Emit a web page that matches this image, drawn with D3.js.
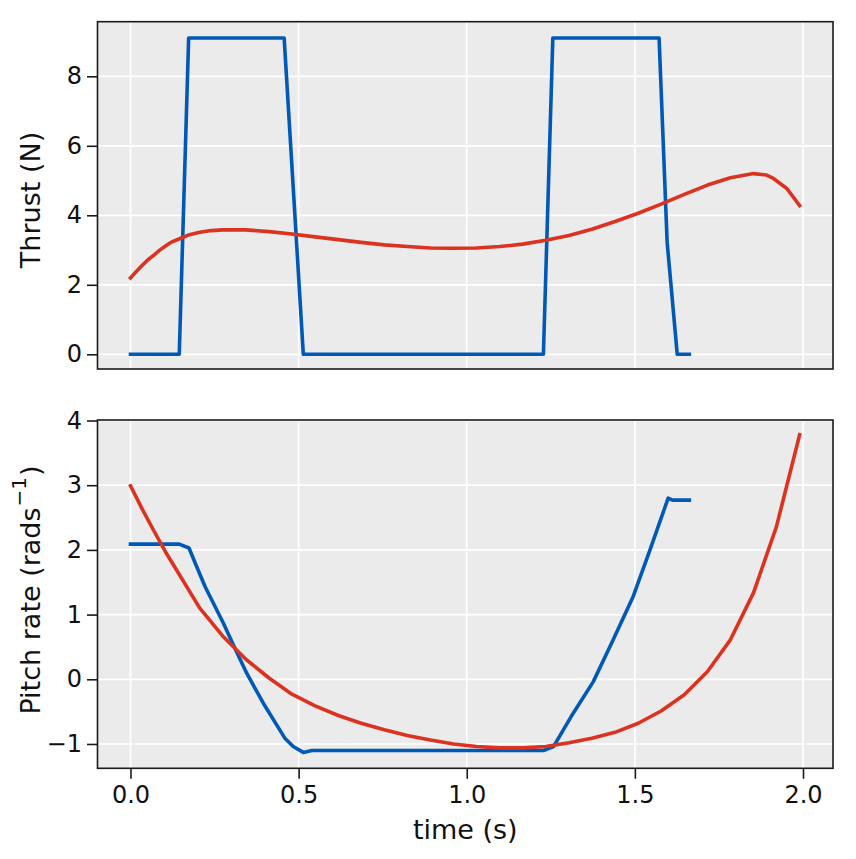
<!DOCTYPE html>
<html>
<head>
<meta charset="utf-8">
<script src="https://cdn.jsdelivr.net/npm/d3@7"></script>
<style>
  body { margin: 0; background: #fff; }
  svg { display: block; font-family: 'DejaVu Sans', sans-serif; }
</style>
</head>
<body>
<svg id="chart"></svg>
<script>
// thrust (top panel)
const thrustTime = [0, 0.145, 0.173, 0.457, 0.514, 1.228, 1.256, 1.572, 1.596, 1.626, 1.662];
const thrustActual = [0, 0, 9.1, 9.1, 0, 0, 9.1, 9.1, 3.22, 0, 0];
const thrustRefTime = [0, 0.018, 0.035, 0.052, 0.069, 0.086, 0.103, 0.120, 0.137, 0.172, 0.206, 0.240, 0.274,
  0.343, 0.412, 0.480, 0.549, 0.618, 0.686, 0.755, 0.823, 0.892, 0.961, 1.029, 1.098, 1.166, 1.235, 1.304,
  1.372, 1.441, 1.510, 1.578, 1.647, 1.716, 1.784, 1.853, 1.890, 1.912, 1.951, 1.990];
const thrustRef = [2.20, 2.39, 2.56, 2.72, 2.85, 2.99, 3.11, 3.22, 3.29, 3.43, 3.51, 3.56, 3.58,
  3.58, 3.53, 3.46, 3.38, 3.30, 3.22, 3.15, 3.10, 3.06, 3.05, 3.06, 3.10, 3.17, 3.28, 3.42,
  3.60, 3.82, 4.06, 4.32, 4.60, 4.87, 5.08, 5.20, 5.16, 5.06, 4.78, 4.28];

// pitch rate (bottom panel)
const pitchTime = [0, 0.145, 0.174, 0.197, 0.222, 0.276, 0.306, 0.346, 0.395, 0.459, 0.484, 0.514, 0.539,
  1.228, 1.258, 1.310, 1.376, 1.431, 1.495, 1.545, 1.599, 1.612, 1.662];
const pitchActual = [2.09, 2.09, 2.03, 1.74, 1.43, 0.87, 0.53, 0.09, -0.37, -0.91, -1.04, -1.13, -1.10,
  -1.10, -1.04, -0.58, -0.04, 0.56, 1.28, 2.00, 2.80, 2.77, 2.77];
const pitchRefTime = [0, 0.035, 0.069, 0.103, 0.137, 0.206, 0.274, 0.343, 0.412, 0.480, 0.549, 0.618, 0.686,
  0.755, 0.823, 0.892, 0.961, 1.029, 1.098, 1.166, 1.235, 1.304, 1.372, 1.441, 1.510, 1.578, 1.647, 1.716,
  1.784, 1.853, 1.921, 1.990];
const pitchRef = [2.99, 2.63, 2.30, 1.98, 1.69, 1.10, 0.67, 0.31, 0.02, -0.23, -0.41, -0.56, -0.68,
  -0.78, -0.87, -0.94, -1.00, -1.04, -1.06, -1.06, -1.04, -0.98, -0.91, -0.82, -0.68, -0.49, -0.24, 0.12,
  0.61, 1.34, 2.36, 3.78];

const xTicks = [0, 0.5, 1.0, 1.5, 2.0];
const thrustTicks = [0, 2, 4, 6, 8];
const pitchTicks = [-1, 0, 1, 2, 3, 4];

const width = 856;
const height = 859;
const left = 97.5;
const right = 833;
const blue = '#005ab5';
const red = '#dc3220';
const ink = '#111';

const svg = d3.select('#chart')
  .attr('width', width)
  .attr('height', height);

const x = d3.scaleLinear()
  .domain([-0.0981, 2.0892])
  .range([left, right]);

function panel(top, bottom, yDomain, yTicks, series, label, showX) {
  const y = d3.scaleLinear().domain(yDomain).range([bottom, top]);
  const g = svg.append('g');

  g.append('rect')
    .attr('x', left)
    .attr('y', top)
    .attr('width', right - left)
    .attr('height', bottom - top)
    .attr('fill', '#ebebeb');

  // grid
  g.append('g')
    .selectAll('line')
    .data(xTicks)
    .join('line')
    .attr('x1', d => x(d)).attr('x2', d => x(d))
    .attr('y1', top).attr('y2', bottom)
    .attr('stroke', '#fff')
    .attr('stroke-width', 1.7);
  g.append('g')
    .selectAll('line')
    .data(yTicks)
    .join('line')
    .attr('x1', left).attr('x2', right)
    .attr('y1', d => y(d)).attr('y2', d => y(d))
    .attr('stroke', '#fff')
    .attr('stroke-width', 1.7);

  const line = d3.line()
    .x(d => x(d[0]))
    .y(d => y(d[1]));

  series.forEach(s => {
    g.append('path')
      .datum(d3.zip(s.t, s.v))
      .attr('d', line)
      .attr('fill', 'none')
      .attr('stroke', s.color)
      .attr('stroke-width', 3.6)
      .attr('stroke-linejoin', 'round')
      .attr('stroke-linecap', 'square');
  });

  g.append('rect')
    .attr('x', left)
    .attr('y', top)
    .attr('width', right - left)
    .attr('height', bottom - top)
    .attr('fill', 'none')
    .attr('stroke', '#1a1a1a')
    .attr('stroke-width', 1.6);

  const yAxis = d3.axisLeft(y)
    .tickValues(yTicks)
    .tickFormat(d3.format('d'))
    .tickSize(10.5)
    .tickPadding(5);
  const ya = g.append('g')
    .attr('transform', `translate(${ left }, 0)`)
    .call(yAxis);
  ya.select('.domain').remove();
  ya.selectAll('line').attr('stroke', '#1a1a1a').attr('stroke-width', 1.6);
  ya.selectAll('text').attr('font-size', 24).attr('fill', ink).attr('font-family', 'DejaVu Sans');

  if (showX) {
    const xAxis = d3.axisBottom(x)
      .tickValues(xTicks)
      .tickFormat(d3.format('.1f'))
      .tickSize(10.5)
      .tickPadding(7);
    const xa = g.append('g')
      .attr('transform', `translate(0, ${ bottom })`)
      .call(xAxis);
    xa.select('.domain').remove();
    xa.selectAll('line').attr('stroke', '#1a1a1a').attr('stroke-width', 1.6);
    xa.selectAll('text').attr('font-size', 24).attr('fill', ink).attr('font-family', 'DejaVu Sans');
  }

  const lab = g.append('text')
    .attr('transform', `translate(30, ${ label.cy }) rotate(-90)`)
    .attr('text-anchor', 'middle')
    .attr('dominant-baseline', 'central')
    .attr('font-size', 27)
    .attr('fill', ink);
  label.draw(lab);
}

panel(21.7, 369, [-0.423, 9.571], thrustTicks, [
  { t: thrustTime, v: thrustActual, color: blue },
  { t: thrustRefTime, v: thrustRef, color: red }
], { cy: 200, draw: t => t.text('Thrust (N)') }, false);

panel(420, 768.3, [-1.376, 4.008], pitchTicks, [
  { t: pitchTime, v: pitchActual, color: blue },
  { t: pitchRefTime, v: pitchRef, color: red }
], {
  cy: 590,
  draw: t => {
    t.append('tspan').text('Pitch rate (rads');
    t.append('tspan').attr('font-size', 20).attr('dy', -11).attr('dx', 1).text('−1');
    t.append('tspan').attr('dy', 11).attr('dx', 1).text(')');
  }
}, true);

svg.append('text')
  .attr('x', (left + right) / 2)
  .attr('y', 839)
  .attr('text-anchor', 'middle')
  .attr('font-size', 27)
  .attr('fill', ink)
  .text('time (s)');
</script>
</body>
</html>
